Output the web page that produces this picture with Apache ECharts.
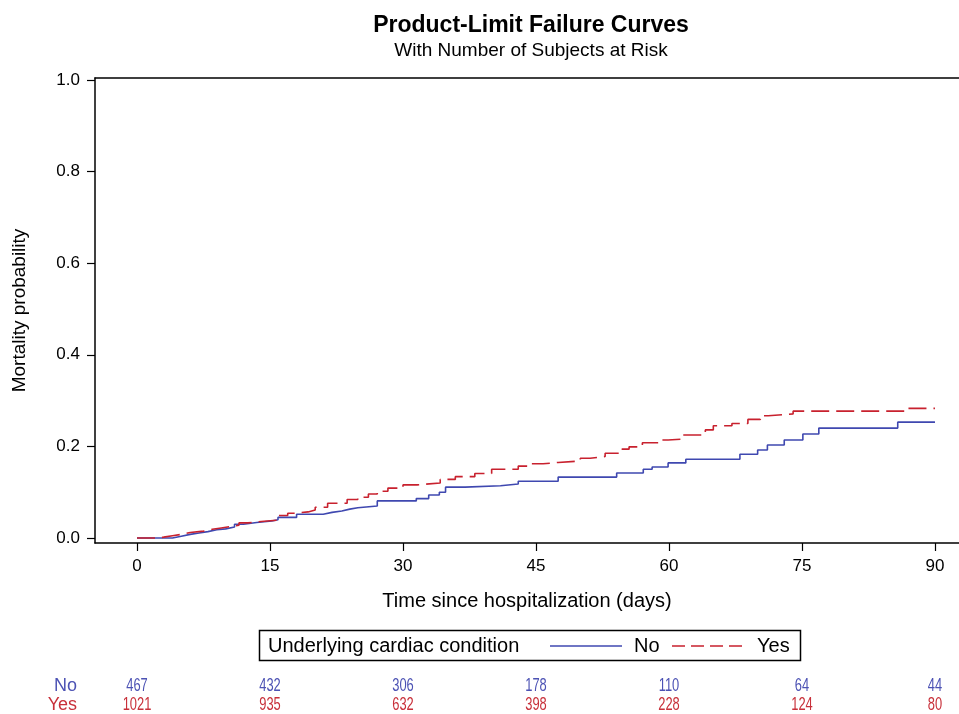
<!DOCTYPE html>
<html>
<head>
<meta charset="utf-8">
<script src="https://cdn.jsdelivr.net/npm/echarts@6/dist/echarts.min.js"></script>
<style>html,body{margin:0;padding:0;background:#fff;}#c{width:959px;height:714px;}</style>
</head>
<body>
<div id="c"></div>
<script>
// ---- data ----
const noTimes = [0, 4.0, 5.0, 6.0, 7.0, 8.0, 9.0, 10.0, 11.0, 12.0, 13.5, 15.2, 15.9, 18.0, 21.0, 22.0, 23.1, 24.0, 24.9, 27.1, 31.5, 32.9, 34.1, 34.8, 37.0, 41.0, 43.0, 47.5, 54.1, 57.1, 58.1, 59.9, 61.9, 68.0, 70.0, 71.1, 73.0, 75.1, 76.9, 85.8, 90];
const noProb  = [0, .004, .008, .011, .014, .018, .020, .024, .030, .034, .037, .040, .045, .052, .056, .059, .063, .066, .070, .081, .086, .094, .100, .111, .114, .118, .124, .133, .142, .150, .155, .164, .172, .183, .192, .203, .214, .227, .240, .253, .253];
const yesTimes = [0, 2.3, 3.0, 4.0, 5.0, 6.0, 7.5, 8.5, 9.5, 10.5, 11.5, 12.5, 14.0, 15.8, 17.0, 17.8, 19.3, 20.1, 21.5, 23.7, 24.9, 26.1, 27.1, 28.3, 30.0, 31.6, 34.2, 35.9, 38.1, 40.0, 43.0, 44.1, 45.8, 47.5, 50.0, 51.1, 52.8, 54.7, 55.5, 57.0, 59.0, 59.9, 61.6, 64.1, 65.0, 67.1, 68.9, 70.3, 71.2, 74.0, 86.8, 90];
const yesProb  = [0, .002, .005, .008, .012, .015, .019, .022, .025, .028, .033, .036, .039, .049, .054, .057, .061, .067, .076, .084, .089, .096, .102, .109, .116, .120, .128, .134, .141, .150, .157, .162, .165, .168, .174, .178, .185, .194, .199, .208, .214, .216, .225, .236, .245, .250, .259, .267, .271, .277, .283, .283];
const xTicks = [0, 15, 30, 45, 60, 75, 90];
const yTicks = [0, 0.2, 0.4, 0.6, 0.8, 1.0];
const groups = ['No', 'Yes'];
const riskTimes = [0, 15, 30, 45, 60, 75, 90];
const riskNo  = [467, 432, 306, 178, 110, 64, 44];
const riskYes = [1021, 935, 632, 398, 228, 124, 80];

// ---- style ----
const FONT = '"Liberation Sans", Arial, Helvetica, sans-serif';
const BLUE = '#3f48b0';
const RED = '#c8212e';
const BLUE_T = '#4c52b4';
const RED_T = '#c8303a';
const XMIN = -4.737, XMAX = 92.71, YMIN = -0.0109, YMAX = 1.0044;

const zip = (a, b) => a.map((v, i) => [v, b[i]]);

function riskRenderer(color) {
  return function (params, api) {
    const p = api.coord([api.value(0), api.value(1)]);
    return {
      type: 'text', x: p[0], y: p[1], scaleX: 0.68,
      style: {text: String(api.value(2)), fill: color, font: '19px ' + FONT, align: 'center', verticalAlign: 'middle'}
    };
  };
}

const chart = echarts.init(document.getElementById('c'), null, {renderer: 'canvas'});
chart.setOption({
  animation: false,
  backgroundColor: '#fff',
  textStyle: {fontFamily: FONT},
  title: {
    text: 'Product-Limit Failure Curves',
    subtext: 'With Number of Subjects at Risk',
    left: 526, top: 9, textAlign: 'center', itemGap: 4,
    textStyle: {fontFamily: FONT, fontSize: 23, fontWeight: 'bold', color: '#000'},
    subtextStyle: {fontFamily: FONT, fontSize: 19, color: '#000'}
  },
  grid: [
    {left: 95, right: 0, top: 78, bottom: 171},
    {left: 95, right: 0, top: 677, height: 40}
  ],
  xAxis: [
    {
      gridIndex: 0, type: 'value', min: XMIN, max: XMAX,
      name: 'Time since hospitalization (days)', nameLocation: 'middle', nameGap: 48,
      nameTextStyle: {fontFamily: FONT, fontSize: 20, color: '#000'},
      splitLine: {show: false},
      axisLine: {show: true, onZero: false, lineStyle: {color: '#000', width: 1.5}},
      axisTick: {show: true, length: 8, customValues: xTicks, lineStyle: {color: '#000', width: 1.2}},
      axisLabel: {customValues: xTicks, margin: 15, fontFamily: FONT, fontSize: 17, color: '#000'}
    },
    {
      gridIndex: 1, type: 'value', min: XMIN, max: XMAX, show: false
    },
    {
      gridIndex: 0, type: 'value', min: XMIN, max: XMAX, position: 'top',
      axisLine: {show: true, onZero: false, lineStyle: {color: '#000', width: 1.5}},
      axisTick: {show: false}, axisLabel: {show: false}, splitLine: {show: false}
    }
  ],
  yAxis: [
    {
      gridIndex: 0, type: 'value', min: YMIN, max: YMAX,
      name: 'Mortality probability', nameLocation: 'middle', nameGap: 66, nameRotate: 90,
      nameTextStyle: {fontFamily: FONT, fontSize: 19, color: '#000'},
      splitLine: {show: false},
      axisLine: {show: true, onZero: false, lineStyle: {color: '#000', width: 1.5}},
      axisTick: {show: true, length: 8, customValues: yTicks, lineStyle: {color: '#000', width: 1.2}},
      axisLabel: {customValues: yTicks, margin: 15, fontFamily: FONT, fontSize: 17, color: '#000',
        formatter: v => v.toFixed(1)}
    },
    {
      gridIndex: 1, type: 'category', data: groups, inverse: true,
      axisLine: {show: false}, axisTick: {show: false}, splitLine: {show: false},
      axisLabel: {interval: 0, margin: 18, fontFamily: FONT, fontSize: 18,
        formatter: v => v === 'No' ? '{b|' + v + '}' : '{r|' + v + '}',
        rich: {b: {color: BLUE_T, fontSize: 18, fontFamily: FONT}, r: {color: RED_T, fontSize: 18, fontFamily: FONT}}}
    }
  ],
  series: [
    {
      name: 'No', type: 'line', xAxisIndex: 0, yAxisIndex: 0, step: 'end', symbol: 'none',
      data: zip(noTimes, noProb), lineStyle: {color: BLUE, width: 1.6}, z: 3
    },
    {
      name: 'Yes', type: 'line', xAxisIndex: 0, yAxisIndex: 0, step: 'end', symbol: 'none',
      data: zip(yesTimes, yesProb), lineStyle: {color: RED, width: 1.6, type: [18, 7]}, z: 4
    },
    {
      type: 'custom', xAxisIndex: 1, yAxisIndex: 1, encode: {x: 0, y: 1},
      data: riskTimes.map((t, i) => [t, 'No', riskNo[i]]),
      renderItem: riskRenderer(BLUE_T)
    },
    {
      type: 'custom', xAxisIndex: 1, yAxisIndex: 1, encode: {x: 0, y: 1},
      data: riskTimes.map((t, i) => [t, 'Yes', riskYes[i]]),
      renderItem: riskRenderer(RED_T)
    }
  ],
  graphic: [
    {type: 'rect', shape: {x: 259.5, y: 630.5, width: 541, height: 30}, style: {fill: '#fff', stroke: '#000', lineWidth: 1.5}},
    {type: 'text', x: 268, y: 646, style: {text: 'Underlying cardiac condition', font: '20px ' + FONT, fill: '#000', verticalAlign: 'middle'}},
    {type: 'line', shape: {x1: 550, y1: 646, x2: 622, y2: 646}, style: {stroke: BLUE, lineWidth: 1.5}},
    {type: 'text', x: 634, y: 646, style: {text: 'No', font: '20px ' + FONT, fill: '#000', verticalAlign: 'middle'}},
    {type: 'line', shape: {x1: 672, y1: 646, x2: 745, y2: 646}, style: {stroke: RED, lineWidth: 1.5, lineDash: [13, 6]}},
    {type: 'text', x: 757, y: 646, style: {text: 'Yes', font: '20px ' + FONT, fill: '#000', verticalAlign: 'middle'}}
  ]
});
</script>
</body>
</html>
